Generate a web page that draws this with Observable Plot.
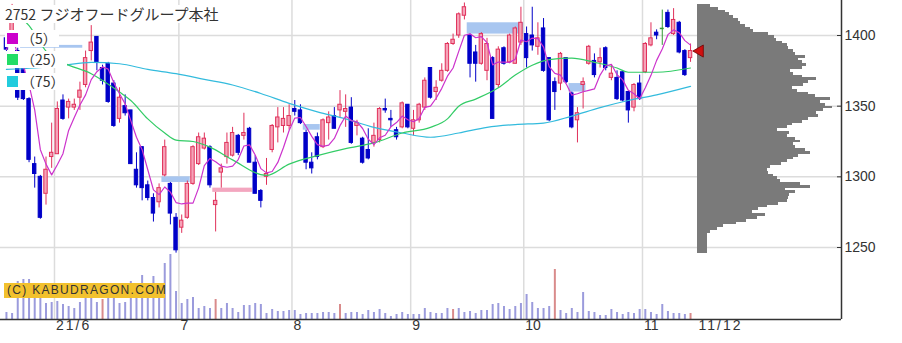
<!DOCTYPE html>
<html><head><meta charset="utf-8">
<script src="https://cdn.jsdelivr.net/npm/d3@7"></script>
<script src="https://cdn.jsdelivr.net/npm/@observablehq/plot@0.6"></script>
<style>
body{margin:0;background:#fff;}
#wrap{position:relative;width:902px;height:343px;overflow:hidden;background:#fff;}
#wrap svg{position:absolute;left:0;top:0;}
.title{position:absolute;left:5px;top:5px;font:15px "Noto Sans CJK JP",sans-serif;color:#333;background:#fff;line-height:18px;padding-right:2px;white-space:nowrap;}
.title .code{font-size:14px;}
.lrow{position:absolute;left:5px;height:17px;background:#fff;display:flex;align-items:center;padding-right:2px;}
.lrow .sq{width:11px;height:11px;margin-left:2px;}
.lrow .tx{font:14px "Noto Sans CJK JP",sans-serif;color:#333;margin-left:3px;line-height:17px;}
.credit{position:absolute;left:4px;top:283px;width:158px;height:15px;background:#f2c12e;font:12px "Liberation Sans",Arial,sans-serif;letter-spacing:1.3px;color:#333;line-height:15px;padding-left:3px;white-space:nowrap;}
</style>
</head><body>
<div id="wrap"></div>
<script>
// ---------- data ----------
const may = [19,20,21,24,25,26,27,28,31];
const jun = [1,2,3,4,7,8,9,10,11,14,15,16,17,18,21,22,23,24,25,28,29,30];
const jul = [1,2,5,6,7,8,9,12,13,14,15,16,19,20,21,26,27,28,29,30];
const aug = [2,3,4,5,6,10,11,12,13,16,17,18,19,20,23,24,25,26,27,30,31];
const sep = [1,2,3,6,7,8,9,10,13,14,15,16,17,21,22,24,27,28,29,30];
const oct = [1,4,5,6,7,8,11,12,13,14,15,18,19,20,21,22,25,26,27,28,29];
const nov = [1,2,4,5,8,9,10,11,12];
const tradingMonths = [[5,may],[6,jun],[7,jul],[8,aug],[9,sep],[10,oct],[11,nov]];

const openP = [1398,1395,1389,1378,1355,1309,1300,1288,1314,1316, 1354,1349,1349,1356,1365,1389,1399,1377,1380,1366, 1341,1350,1347,1305,1321,1294,1285,1282,1301,1295, 1271,1264,1271,1295,1309,1320,1321,1280,1303,1314, 1315,1329,1329,1334,1310,1290,1300,1319,1335,1336, 1336,1348,1347,1331,1310,1328,1321,1338,1343,1347, 1346,1349,1336,1327,1319,1324,1326,1348,1341,1333, 1335,1351,1334,1340,1349,1377,1360,1368,1375,1394, 1400,1414,1400,1388,1380,1375,1384,1365,1391,1381, 1380,1395,1401,1400,1392,1405,1384,1367,1366,1384, 1359,1340,1365,1380,1382,1381,1391,1370,1370,1374, 1360,1349,1366,1374,1393,1402,1405,1416,1401,1409, 1389,1384];
const highP = [1400,1422,1391,1380,1356,1314,1301,1314,1338,1353, 1358,1355,1355,1367,1389,1407,1399,1379,1381,1368, 1363,1358,1347,1317,1321,1297,1288,1295,1326,1296, 1274,1273,1297,1322,1331,1331,1322,1289,1309,1331, 1335,1330,1345,1335,1315,1291,1313,1337,1349,1349, 1351,1354,1351,1333,1317,1331,1341,1346,1349,1361, 1358,1356,1340,1328,1334,1338,1349,1355,1347,1335, 1353,1351,1347,1352,1370,1377,1368,1380,1395,1401, 1416,1423,1401,1393,1402,1398,1385,1392,1392,1401, 1406,1420,1406,1420,1409,1412,1384,1370,1388,1384, 1360,1349,1370,1393,1387,1391,1392,1379,1375,1375, 1360,1366,1372,1395,1409,1404,1418,1418,1419,1410, 1390,1394];
const lowP = [1388,1393,1354,1354,1310,1292,1270,1280,1306,1316, 1340,1341,1347,1347,1363,1382,1375,1365,1352,1335, 1338,1343,1309,1292,1283,1283,1268,1278,1300,1266, 1246,1260,1270,1294,1308,1319,1292,1261,1292,1309, 1314,1315,1326,1310,1288,1278,1294,1317,1324,1331, 1333,1343,1337,1305,1302,1312,1320,1326,1334,1342, 1335,1323,1329,1309,1312,1321,1324,1345,1335,1326, 1334,1334,1329,1338,1347,1355,1354,1367,1374,1393, 1398,1411,1370,1367,1379,1368,1341,1363,1379,1380, 1380,1393,1377,1389,1386,1374,1339,1347,1361,1366, 1334,1324,1348,1379,1370,1377,1375,1368,1354,1353, 1338,1346,1354,1373,1392,1397,1393,1405,1400,1387, 1371,1381];
const closeP = [1390,1412,1356,1355,1312,1302,1271,1305,1317,1348, 1341,1353,1351,1361,1384,1395,1381,1368,1353,1336, 1356,1345,1309,1294,1292,1285,1274,1292,1321,1274, 1248,1269,1295,1321,1328,1327,1294,1283,1306,1324, 1331,1317,1331,1310,1288,1283,1302,1336,1342,1341, 1343,1346,1338,1310,1306,1314,1340,1342,1334,1351, 1348,1324,1338,1310,1313,1329,1348,1347,1340,1328, 1352,1335,1340,1351,1368,1356,1363,1375,1394,1397, 1415,1420,1380,1380,1401,1394,1341,1390,1380,1400, 1405,1409,1384,1393,1398,1375,1340,1360,1387,1367, 1335,1345,1367,1392,1372,1384,1377,1373,1355,1354, 1347,1365,1355,1394,1398,1400,1405,1406,1411,1388, 1372,1389];
// volume, thousand shares
const volumeK = [7,6,38,40,40,24,28,16,17,18, 15,13,11,17,21,22,17,20,22,23, 16,17,38,36,44,36,43,33,56,65, 28,16,20,22,11,13,11,20,11,16, 11,7,14,14,16,15,6,10,8,8, 9,9,5,6,6,6,7,7,6,15, 6,7,7,5,9,7,10,6,3,5, 7,5,5,5,11,7,6,6,11,10, 11,7,8,6,9,9,15,16,13,10, 13,16,25,17,11,11,13,50,9,6, 11,7,27,8,7,4,4,10,7,5, 7,6,10,10,7,5,15,8,6,6, 5,6];
const sqDates = ["2021-06-11","2021-07-09","2021-08-13","2021-09-10","2021-10-08","2021-11-12"];

// moving averages (index of trading day, value)
const ma25Idx = [0,4,7,10,15,20,22,25,28,30,33,36,40,46,50,55,60,65,70,75,78,80,83,87,90,93,96,100,104,108,110,115,121];
const ma25Val = [1420,1407,1389,1381,1373,1360,1354,1341,1331,1326,1325,1321,1312,1301,1309,1315,1320,1324,1331,1335,1341,1350,1355,1363,1372,1379,1383,1384,1381,1377,1374,1374,1377];
const ma75Idx = [0,5,10,15,20,25,30,35,40,45,50,55,60,65,70,75,80,85,90,95,100,105,110,115,121];
const ma75Val = [1376,1377,1379,1381,1380,1376,1373,1369,1365,1359,1352,1346,1341,1335,1331,1328,1331,1335,1337,1338,1343,1349,1354,1358,1364];

// open price gaps (windows)
const gapFrom = [3,28,37,53,82,100];
const gapTo   = [13,32,43,55,91,102];
const gapLo   = [1391,1296,1289,1333,1401,1360];
const gapHi   = [1393,1300,1292,1337,1409,1366];
const gapKind = ["down","down","up","down","down","down"];

// price-by-volume profile (bin centre, 2-yen bins; volume in hundred shares)
const profilePrice = [1421,1419,1417,1415,1413,1411,1409,1407,1405,1403,1401,1399,1397,1395,1393,1391,1389,1387,1385,1383,1381,1379,1377,1375,1373,1371,1369,1367,1365,1363,1361,1359,1357,1355,1353,1351,1349,1347,1345,1343,1341,1339,1337,1335,1333,1331,1329,1327,1325,1323,1321,1319,1317,1315,1313,1311,1309,1307,1305,1303,1301,1299,1297,1295,1293,1291,1289,1287,1285,1283,1281,1279,1277,1275,1273,1271,1269,1267,1265,1263,1261,1259,1257,1255,1253,1251,1249,1247];
const profileVol = [127,210,277,317,360,410,427,477,527,560,710,770,787,843,893,910,960,977,1077,1010,1043,1087,1043,927,960,1043,1187,1110,1060,943,993,1110,1177,1327,1227,1277,1343,1260,1187,1210,1110,1043,943,893,793,920,900,977,1027,960,977,1077,1127,1010,960,900,833,727,700,703,760,793,827,1027,1127,877,977,920,910,900,810,693,610,543,677,593,487,387,260,200,127,93,93,93,93,93,93,93];

const yTicks = [1250,1300,1350,1400];
const monthLabels = ["21/6","7","8","9","10","11"];
const lastLabel = "11/12";
const maLegend = [["（5）","#cc00cc"],["（25）","#22dd66"],["（75）","#22ccdd"]];

// ---------- derived tables ----------
const dates = tradingMonths.flatMap(([m, days]) => days.map(d => `2021-${String(m).padStart(2,"0")}-${String(d).padStart(2,"0")}`));
const candles = dates.map((date, i) => ({i, date, open: openP[i], high: highP[i], low: lowP[i], close: closeP[i], volume: volumeK[i]*1000, sq: sqDates.includes(date)}));
const monthStarts = candles.filter((d, i) => i > 0 && d.date.slice(5,7) !== candles[i-1].date.slice(5,7)).map(d => d.i);
const monthTicks = monthStarts.map((i, j) => ({i: i - 0.5, label: monthLabels[j]}));
const lastCandle = candles[candles.length - 1];
const ma25 = ma25Idx.map((i, j) => ({i, v: ma25Val[j]}));
const ma75 = ma75Idx.map((i, j) => ({i, v: ma75Val[j]}));
const gaps = gapFrom.map((f, j) => ({from: f, to: gapTo[j], lo: gapLo[j], hi: gapHi[j], kind: gapKind[j]}));
const profile = profilePrice.map((p, j) => ({p, v: profileVol[j]}));

// ---------- layout ----------
const W = 902, H = 343;
const X_DOMAIN = [-1.05, 147.7];
const Y_DOMAIN = [1199.05, 1424.77];
const RED = "#e0305a", PINK = "#f5a3b8", BLUE = "#0000c8", DOJI = "#339933";
const FONT = "Liberation Sans, Arial, sans-serif";
const base = {width: W, height: H, marginLeft: 0, marginRight: 61, marginTop: 0, marginBottom: 24,
  x: {type: "linear", domain: X_DOMAIN, axis: null}, style: "background:transparent;overflow:visible"};

const candleColor = d => d.close > d.open ? RED : d.close < d.open ? BLUE : DOJI;
const bodies = candles.filter(d => d.open !== d.close);
const dojis = candles.filter(d => d.open === d.close);

const main = Plot.plot({
  ...base,
  y: {domain: Y_DOMAIN, axis: null},
  marks: [
    Plot.ruleY(yTicks, {stroke: "#dcdcdc", strokeWidth: 1.5}),
    Plot.ruleX(monthTicks, {x: "i", stroke: "#dcdcdc", strokeWidth: 1.5}),
    Plot.rect(gaps, {x1: d => d.from - 0.5, x2: d => d.to + 0.5, y1: "lo", y2: "hi", fill: d => d.kind === "up" ? "#f3a6bf" : "#a8c6f0"}),
    Plot.ruleX(candles, {x: "i", y1: "low", y2: "high", stroke: candleColor, strokeWidth: 1}),
    Plot.rect(bodies, {x1: d => d.i - 0.3, x2: d => d.i + 0.3, y1: "open", y2: "close",
      fill: d => d.close > d.open ? PINK : BLUE, stroke: d => d.close > d.open ? RED : BLUE, strokeWidth: 1}),
    Plot.ruleY(dojis, {x1: d => d.i - 0.35, x2: d => d.i + 0.35, y: "close", stroke: DOJI, strokeWidth: 1.5}),
    Plot.line(ma75, {x: "i", y: "v", stroke: "#33bbdd", strokeWidth: 1.2, curve: "monotone-x"}),
    Plot.line(ma25, {x: "i", y: "v", stroke: "#33cc66", strokeWidth: 1.2, curve: "monotone-x"}),
    Plot.line(candles, Plot.windowY({k: 5, anchor: "end", reduce: "mean"}, {x: "i", y: "close", stroke: "#cc33cc", strokeWidth: 1.2})),
    Plot.tickY(yTicks, {y: d => d, insetLeft: 837, stroke: "#333", strokeWidth: 1}),
    Plot.text(yTicks, {y: d => d, text: d => String(d), frameAnchor: "right", textAnchor: "start", dx: 3, fontSize: 14, fontFamily: FONT, fill: "#333"}),
    Plot.text(monthTicks, {x: "i", text: "label", frameAnchor: "bottom", textAnchor: "start", dx: 1.5, dy: 10, fontSize: 14, fontFamily: FONT, fill: "#333"}),
    Plot.text([lastCandle], {x: "i", text: () => lastLabel, frameAnchor: "bottom", textAnchor: "start", dx: 8, dy: 10, fontSize: 14, fontFamily: FONT, fill: "#333"}),
    Plot.ruleX([X_DOMAIN[1]], {stroke: "#333", strokeWidth: 1.5})
  ]
});

const vol = Plot.plot({
  ...base,
  marginTop: 219,
  y: {domain: [0, 100000], axis: null},
  marks: [
    Plot.ruleX(candles, {x: "i", y: "volume", stroke: d => d.sq ? "#d98b8b" : "#9b9bdc", strokeWidth: 2}),
    Plot.ruleY([0], {stroke: "#333", strokeWidth: 1.5})
  ]
});

const prof = Plot.plot({
  width: W, height: H, marginLeft: 697.3, marginRight: W - 837.3, marginTop: 0, marginBottom: 24,
  style: "background:transparent;overflow:visible",
  x: {domain: [0, 1400], axis: null},
  y: {domain: Y_DOMAIN, axis: null},
  marks: [
    Plot.rectX(profile, {x: "v", y1: d => d.p - 1, y2: d => d.p + 1, fill: "#7a7a7a", shapeRendering: "crispEdges"}),
    Plot.dot([lastCandle], {y: "close", frameAnchor: "left", dx: 2, symbol: "triangle", rotate: -90, r: 4.5, fill: "#d01010", stroke: "#700000", strokeWidth: 0.8})
  ]
});

d3.select(main).selectAll("text").filter(function(){ return this.textContent.includes("/"); }).attr("letter-spacing", "2");

const wrap = document.getElementById("wrap");
wrap.append(main, vol, prof);

const title = document.createElement("div");
title.className = "title";
title.innerHTML = '<span class="code">2752</span> フジオフードグループ本社';
wrap.append(title);

const rowTops = [30, 51, 73];
maLegend.forEach(([label, color], j) => {
  const r = document.createElement("div");
  r.className = "lrow";
  r.style.top = rowTops[j] + "px";
  r.innerHTML = `<span class="sq" style="background:${color}"></span><span class="tx">${label}</span>`;
  wrap.append(r);
});

const credit = document.createElement("div");
credit.className = "credit";
credit.textContent = "(C) KABUDRAGON.COM";
wrap.append(credit);
</script>
</body></html>
